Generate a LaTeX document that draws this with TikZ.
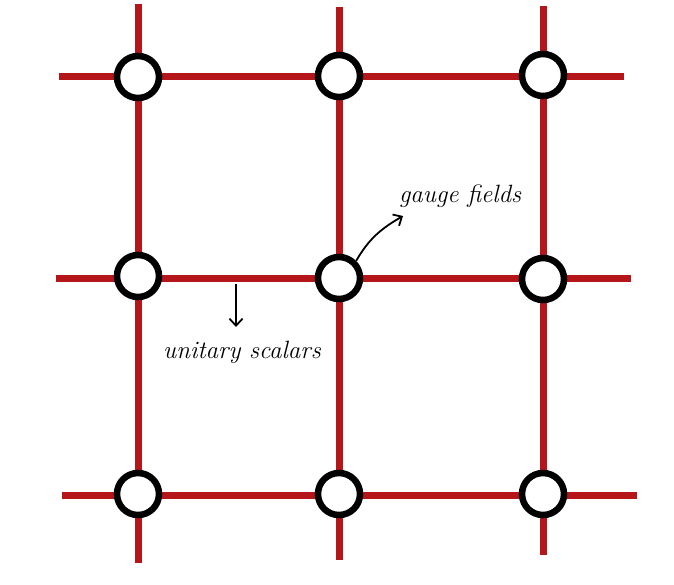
\documentclass[tikz,border=0pt]{standalone}
\usepackage{fontspec}
\usetikzlibrary{arrows.meta}
\definecolor{gridred}{RGB}{180,22,26}
\tikzset{
  gridline/.style={draw=gridred, line width=7pt},
  site/.style={circle, draw=black, fill=white, line width=6.5pt, minimum size=42pt, inner sep=0pt},
  hand/.style={font=\itshape\fontsize{25}{28}\selectfont, inner sep=1pt},
  pointer/.style={draw=black, line width=1.8pt, -{Straight Barb[length=7pt,width=13pt]}}
}
\begin{document}
\begin{tikzpicture}[x=1pt,y=-1pt]
\useasboundingbox (0,0) rectangle (674,584);
% vertical lines
\coordinate (v1t) at (138,4);   \coordinate (v1b) at (138,563);
\coordinate (v2t) at (339,7);   \coordinate (v2b) at (339,560);
\coordinate (v3t) at (543,6);   \coordinate (v3b) at (543,555);
% horizontal lines
\coordinate (h1l) at (59,76);   \coordinate (h1r) at (624,76);
\coordinate (h2l) at (56,278);  \coordinate (h2r) at (631,278);
\coordinate (h3l) at (62,495);  \coordinate (h3r) at (637,495);
\draw[gridline] (v1t) -- (v1b);
\draw[gridline] (v2t) -- (v2b);
\draw[gridline] (v3t) -- (v3b);
\draw[gridline] (h1l) -- (h1r);
\draw[gridline] (h2l) -- (h2r);
\draw[gridline] (h3l) -- (h3r);
% sites
\node[site] (c11) at (138,77) {};
\node[site] (c12) at (339,76) {};
\node[site] (c13) at (543,75) {};
\node[site] (c21) at (138,276) {};
\node[site] (c22) at (339,278) {};
\node[site] (c23) at (543,279) {};
\node[site] (c31) at (138,494) {};
\node[site] (c32) at (339,494) {};
\node[site] (c33) at (543,494) {};
% labels
\node[hand, anchor=west] (gf) at (398,196) {gauge fields};
\node[hand] (us) at (242,352) {unitary scalars};
\coordinate (usstart) at (236,284);
\coordinate (gfend) at (403,216);
\draw[pointer] (c22.45) to[out=60, in=210] (gfend);
\draw[pointer] (usstart) -- (236,327);
\end{tikzpicture}
\end{document}
